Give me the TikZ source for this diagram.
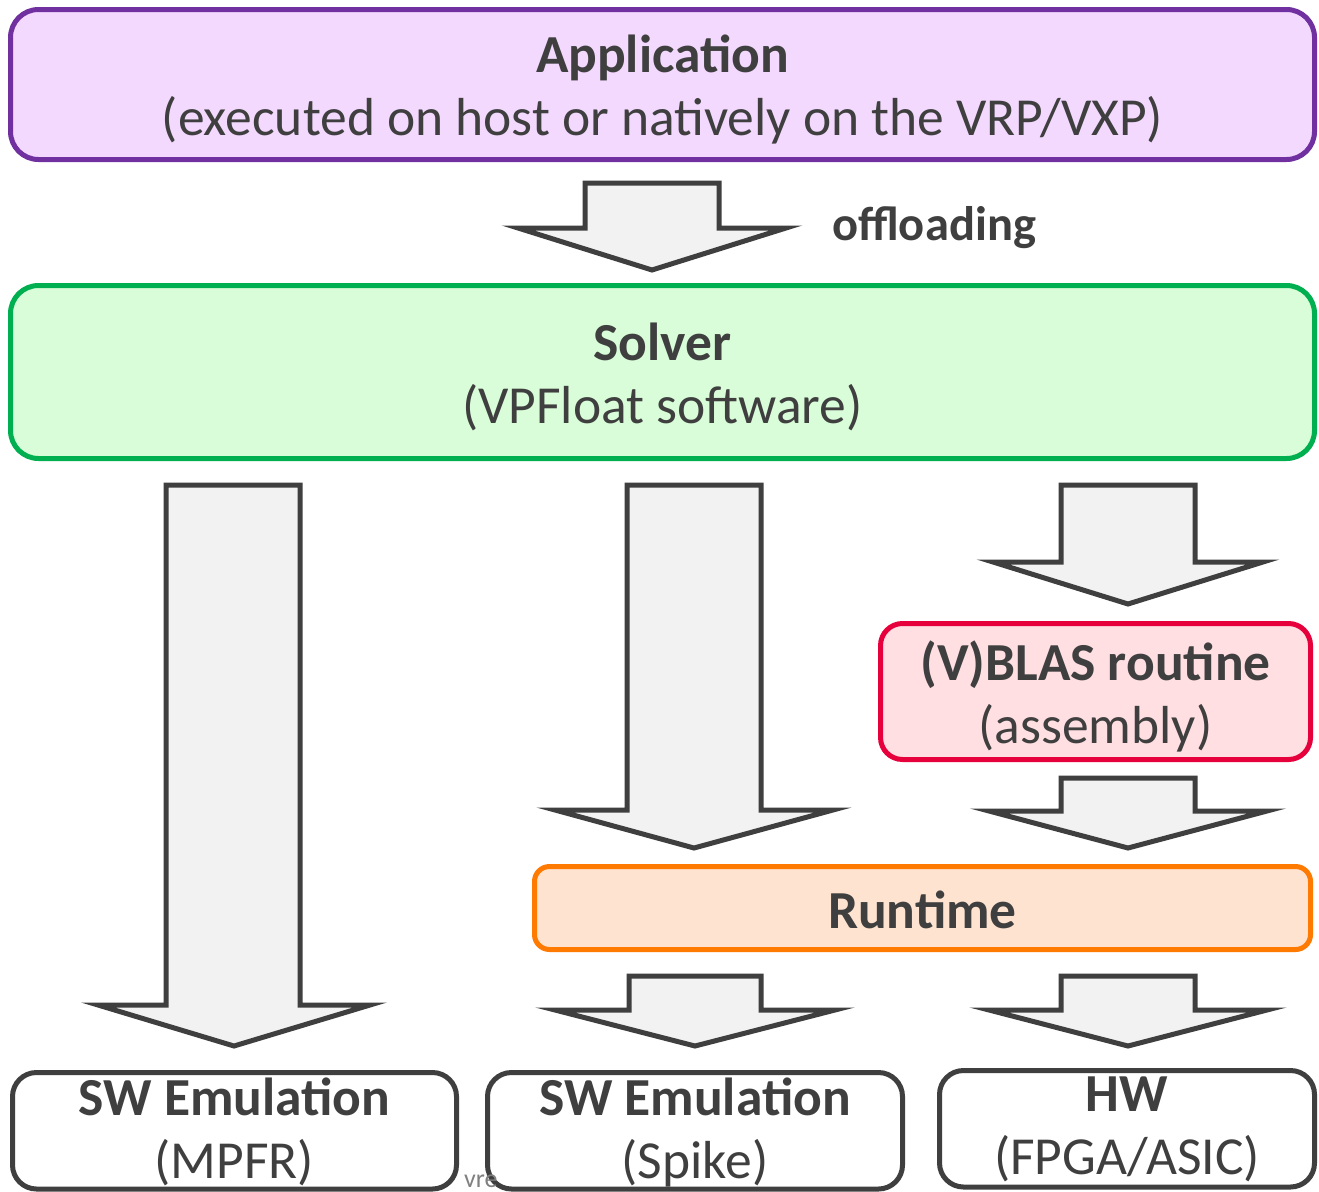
\documentclass[tikz,border=0pt]{standalone}
\usepackage{fontspec}
\setmainfont{Carlito}
\usetikzlibrary{calc}
\definecolor{ink}{HTML}{3F3F3F}
\definecolor{appline}{HTML}{7030A0}
\definecolor{appfill}{HTML}{F4D9FF}
\definecolor{solline}{HTML}{00B050}
\definecolor{solfill}{HTML}{D9FDD9}
\definecolor{blasline}{HTML}{E6003C}
\definecolor{blasfill}{HTML}{FFDFE2}
\definecolor{rtline}{HTML}{FF7A00}
\definecolor{rtfill}{HTML}{FFE3D1}
\definecolor{arrfill}{HTML}{F2F2F2}

% block arrow: #1 top-centre coordinate, #2 tip coordinate,
% #3 shaft half width, #4 head half width, #5 head height
\newcommand\blockarrow[5]{%
  \draw[blockarr] let \p1=(#1), \p2=(#2) in
    (\x1-#3pt,\y1) -- (\x1+#3pt,\y1) -- (\x1+#3pt,\y2+#5pt)
    -- (\x2+#4pt,\y2+#5pt) -- (\x2,\y2) -- (\x2-#4pt,\y2+#5pt)
    -- (\x1-#3pt,\y2+#5pt) -- cycle;}

\begin{document}
\begin{tikzpicture}[x=1pt,y=-1pt,
  layer/.style={draw, line width=5pt, inner sep=0pt},
  caption/.style={text=ink, align=center, inner sep=0pt,
    font=\fontsize{53.5}{63}\selectfont},
  blockarr/.style={draw=ink, fill=arrfill, line width=5pt, line join=miter},
  target/.style={layer, draw=ink, fill=white, rounded corners=24pt,
    minimum height=116.5pt}]
\useasboundingbox (0,0) rectangle (1319,1191);

% layers
\node[layer, draw=appline, fill=appfill, rounded corners=28pt,
  minimum width=1304pt, minimum height=150pt] (app) at (662.5,84.5) {};
\node[caption] (appT) at (662.5,89)
  {\textbf{Application}\\(executed on host or natively on the VRP/VXP)};

\node[layer, draw=solline, fill=solfill, rounded corners=28pt,
  minimum width=1304pt, minimum height=173pt] (solver) at (662.5,372) {};
\node[caption] (solverT) at (662.5,377) {\textbf{Solver}\\(VPFloat software)};

\node[layer, draw=blasline, fill=blasfill, rounded corners=22pt,
  minimum width=430pt, minimum height=136pt] (blas) at (1095.5,691.5) {};
\node[caption] (blasT) at (1095.5,696) {\textbf{(V)BLAS routine}\\(assembly)};

\node[layer, draw=rtline, fill=rtfill, rounded corners=15pt,
  minimum width=776pt, minimum height=83pt] (runtime) at (922.5,908) {};
\node[caption, font=\fontsize{53.5}{63}\selectfont\bfseries] (runtimeT)
  at (922.5,910) {Runtime};

% execution targets
\node[target, minimum width=444pt] (mpfr) at (234.5,1130.75) {};
\node[caption] (mpfrT) at (234.5,1132) {\textbf{SW Emulation}\\(MPFR)};
\node[target, minimum width=415pt] (spike) at (695,1130.75) {};
\node[caption] (spikeT) at (695,1132) {\textbf{SW Emulation}\\(Spike)};
\node[target, minimum width=375pt] (hw) at (1127,1128.75) {};
\node[caption] (hwT) at (1127,1129) {\textbf{HW}\\(FPGA/ASIC)};

\node[text=gray, font=\fontsize{26}{30}\selectfont, anchor=base west,
  inner sep=0pt] (frag) at (464,1187) {vre};

% arrow end points
\coordinate (offS) at (652,183);  \coordinate (offT) at (652,270);
\coordinate (leftS) at (233,485); \coordinate (leftT) at (234,1046);
\coordinate (midS) at (694,485);  \coordinate (midT) at (694,848);
\coordinate (blasS) at (1128,485); \coordinate (blasT) at (1128,604);
\coordinate (rtS) at (1128,778);  \coordinate (rtT) at (1128,848);
\coordinate (spS) at (695,976);   \coordinate (spT) at (695,1046);
\coordinate (hwS) at (1128,976);  \coordinate (hwT) at (1128,1046);

\blockarrow{offS}{offT}{67}{134}{42}
\blockarrow{leftS}{leftT}{67}{136}{41}
\blockarrow{midS}{midT}{67}{139}{38}
\blockarrow{blasS}{blasT}{67}{135}{42}
\blockarrow{rtS}{rtT}{67}{139}{37}
\blockarrow{spS}{spT}{66}{140}{36}
\blockarrow{hwS}{hwT}{67}{139}{36}

\node[text=ink, font=\fontsize{48.5}{58}\selectfont\bfseries, anchor=west,
  inner sep=0pt] (offl) at (832,228) {offloading};
\end{tikzpicture}
\end{document}
